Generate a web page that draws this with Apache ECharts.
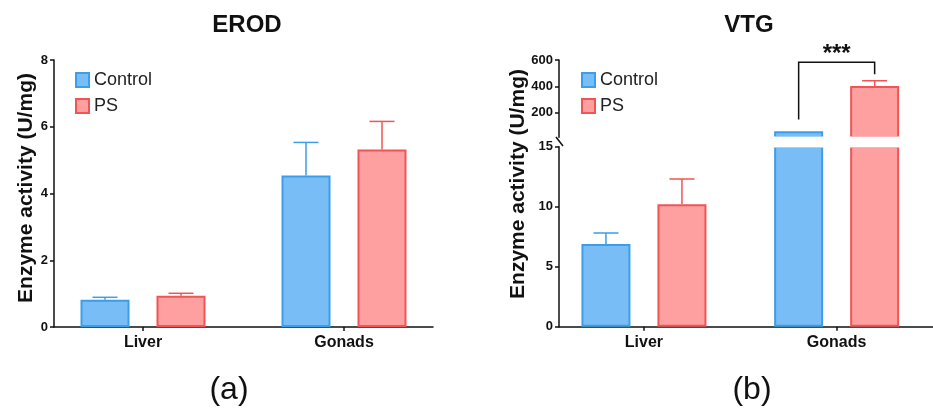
<!DOCTYPE html>
<html>
<head>
<meta charset="utf-8">
<script src="https://cdn.jsdelivr.net/npm/echarts@6/dist/echarts.min.js"></script>
<style>html,body{margin:0;padding:0;background:#fff;}#chart{width:933px;height:414px;}</style>
</head>
<body>
<div id="chart"></div>
<script>
// ---- data ----
const categories = ['Liver', 'Gonads'];
const seriesNames = ['Control', 'PS'];
// (a) EROD
const erodControl = [0.82, 4.54];
const erodControlSD = [0.07, 0.99];
const erodPS = [0.94, 5.32];
const erodPSSD = [0.07, 0.84];
const erodTicks = [0, 2, 4, 6, 8];
// (b) VTG (broken axis: 0-15 and 15-600)
const vtgControl = [6.9, 60];
const vtgControlSD = [0.9, 0];
const vtgPS = [10.2, 403];
const vtgPSSD = [2.1, 40];
const vtgLowTicks = [0, 5, 10, 15];
const vtgHighTicks = [200, 400, 600];
// significance bracket on Gonads: [category index, left end, top, right end]
const vtgBracket = [[1, 150, 583, 492]];
const vtgBracketLabel = '***';

// ---- styles ----
const FONT = '"Liberation Sans", Arial, Helvetica, sans-serif';
const BLUE_FILL = '#79bdf7', BLUE_LINE = '#3c9de8';
const RED_FILL = '#fea0a0', RED_LINE = '#f05454';
const AXIS_COLOR = '#111';
const BAR_W = 49, BAR_GAP_PX = 27, CAP = 25;
const OFFSET = (BAR_W + BAR_GAP_PX) / 2;

const axisLineStyle = { color: AXIS_COLOR, width: 1.5 };
const tickLabel = { color: '#111', fontWeight: 'bold', fontSize: 13, fontFamily: FONT, margin: 6 };
const catLabel = { color: '#111', fontWeight: 'bold', fontSize: 16, fontFamily: FONT, margin: 8 };

function errRender(offset, color) {
  return function (params, api) {
    const i = api.value(0), m = api.value(1), s = api.value(2);
    if (!(s > 0)) return null;
    const a = api.coord([i, m]);
    const b = api.coord([i, m + s]);
    const cs = params.coordSys;
    if (a[1] <= cs.y + 0.5 || b[1] >= cs.y + cs.height - 0.5) return null;
    const x = a[0] + offset;
    return {
      type: 'group',
      children: [
        { type: 'line', shape: { x1: x, y1: a[1], x2: x, y2: b[1] }, style: { stroke: color, lineWidth: 1.5 } },
        { type: 'line', shape: { x1: x - CAP / 2, y1: b[1], x2: x + CAP / 2, y2: b[1] }, style: { stroke: color, lineWidth: 1.5 } }
      ]
    };
  };
}

function barSeries(name, data, xi, yi, fill, line) {
  return {
    name: name, type: 'bar', xAxisIndex: xi, yAxisIndex: yi, data: data,
    barWidth: BAR_W, barGap: (BAR_GAP_PX / BAR_W * 100).toFixed(1) + '%',
    itemStyle: { color: fill, borderColor: line, borderWidth: 2 },
    clip: true, silent: true
  };
}
function errSeries(mean, sd, xi, yi, offset, color) {
  return {
    type: 'custom', xAxisIndex: xi, yAxisIndex: yi, clip: true, silent: true, z: 3,
    renderItem: errRender(offset, color),
    encode: { x: 0, y: 1 },
    data: categories.map((c, i) => [i, mean[i], sd[i]])
  };
}

const LOW_MAX = 15, HIGH_MIN = 15, HIGH_MAX = 600;
const lowVals = arr => arr.map(v => v);
const highVals = arr => arr.map(v => (v > HIGH_MIN ? v : '-'));

const legendBase = {
  data: seriesNames, orient: 'vertical', selectedMode: false, icon: 'rect',
  itemWidth: 13, itemHeight: 14, itemGap: 8,
  textStyle: { fontSize: 18, color: '#222', fontFamily: FONT, lineHeight: 18 }
};

const titleStyle = { fontSize: 24, fontWeight: 'bold', color: '#111', fontFamily: FONT };

const option = {
  animation: false,
  textStyle: { fontFamily: FONT },
  title: [
    { text: 'EROD', left: 242, top: 8, textAlign: 'center', textStyle: titleStyle },
    { text: 'VTG', left: 744, top: 8, textAlign: 'center', textStyle: titleStyle }
  ],
  legend: [
    Object.assign({}, legendBase, { left: 70, top: 66 }),
    Object.assign({}, legendBase, { left: 576, top: 66 })
  ],
  grid: [
    { left: 42.5, top: 60, width: 402, height: 267 },          // 0 a bars
    { left: 54, top: 60, width: 379, height: 267 },            // 1 a axes
    { left: 547.6, top: 146.7, width: 402.8, height: 180 },    // 2 b low bars
    { left: 547.6, top: 60, width: 402.8, height: 77.3 },      // 3 b high bars
    { left: 559, top: 146.7, right: 0, height: 180 },          // 4 b low axes
    { left: 559, top: 60, width: 100, height: 77.3 }           // 5 b high axes
  ],
  xAxis: [
    { gridIndex: 0, type: 'category', data: categories, axisLine: { show: false },
      axisTick: { show: true, alignWithLabel: true, length: 4, lineStyle: axisLineStyle }, axisLabel: catLabel },
    { gridIndex: 1, type: 'category', data: categories, axisLine: { show: true, lineStyle: axisLineStyle },
      axisTick: { show: false }, axisLabel: { show: false } },
    { gridIndex: 2, type: 'category', data: categories, axisLine: { show: false },
      axisTick: { show: true, alignWithLabel: true, length: 4, lineStyle: axisLineStyle }, axisLabel: catLabel },
    { gridIndex: 3, type: 'category', data: categories, show: false },
    { gridIndex: 4, type: 'category', data: categories, axisLine: { show: true, lineStyle: axisLineStyle },
      axisTick: { show: false }, axisLabel: { show: false } },
    { gridIndex: 5, type: 'category', data: categories, show: false }
  ],
  yAxis: [
    { gridIndex: 0, type: 'value', min: 0, max: 8, show: false },
    { gridIndex: 1, type: 'value', min: 0, max: 8, interval: 2,
      axisLine: { show: true, lineStyle: axisLineStyle },
      axisTick: { show: true, length: 4, lineStyle: axisLineStyle, customValues: erodTicks },
      axisLabel: Object.assign({ customValues: erodTicks }, tickLabel), splitLine: { show: false } },
    { gridIndex: 2, type: 'value', min: 0, max: LOW_MAX, show: false },
    { gridIndex: 3, type: 'value', min: HIGH_MIN, max: HIGH_MAX, show: false },
    { gridIndex: 4, type: 'value', min: 0, max: LOW_MAX, interval: 5,
      axisLine: { show: true, lineStyle: axisLineStyle },
      axisTick: { show: true, length: 4, lineStyle: axisLineStyle, customValues: vtgLowTicks },
      axisLabel: Object.assign({ customValues: vtgLowTicks }, tickLabel), splitLine: { show: false } },
    { gridIndex: 5, type: 'value', min: HIGH_MIN, max: HIGH_MAX,
      axisLine: { show: true, lineStyle: axisLineStyle },
      axisTick: { show: true, length: 4, lineStyle: axisLineStyle, customValues: vtgHighTicks },
      axisLabel: Object.assign({ customValues: vtgHighTicks }, tickLabel), splitLine: { show: false } }
  ],
  series: [
    // (a)
    barSeries('Control', erodControl, 0, 0, BLUE_FILL, BLUE_LINE),
    barSeries('PS', erodPS, 0, 0, RED_FILL, RED_LINE),
    errSeries(erodControl, erodControlSD, 0, 0, -OFFSET, BLUE_LINE),
    errSeries(erodPS, erodPSSD, 0, 0, OFFSET, RED_LINE),
    // (b) lower segment
    barSeries('Control', lowVals(vtgControl), 2, 2, BLUE_FILL, BLUE_LINE),
    barSeries('PS', lowVals(vtgPS), 2, 2, RED_FILL, RED_LINE),
    errSeries(vtgControl, vtgControlSD, 2, 2, -OFFSET, BLUE_LINE),
    errSeries(vtgPS, vtgPSSD, 2, 2, OFFSET, RED_LINE),
    // (b) upper segment
    barSeries('Control', highVals(vtgControl), 3, 3, BLUE_FILL, BLUE_LINE),
    barSeries('PS', highVals(vtgPS), 3, 3, RED_FILL, RED_LINE),
    errSeries(vtgControl, vtgControlSD, 3, 3, -OFFSET, BLUE_LINE),
    errSeries(vtgPS, vtgPSSD, 3, 3, OFFSET, RED_LINE),
    // significance bracket
    {
      type: 'custom', xAxisIndex: 3, yAxisIndex: 3, clip: false, silent: true, z: 4,
      encode: { x: 0, y: 1 },
      data: vtgBracket,
      renderItem: function (params, api) {
        const i = api.value(0);
        const l = api.coord([i, api.value(1)]);
        const t = api.coord([i, api.value(2)]);
        const r = api.coord([i, api.value(3)]);
        const xl = l[0] - OFFSET, xr = l[0] + OFFSET;
        return {
          type: 'group',
          children: [
            { type: 'polyline', shape: { points: [[xl, l[1]], [xl, t[1]], [xr, t[1]], [xr, r[1]]] },
              style: { stroke: '#111', lineWidth: 1.5, fill: null } },
            { type: 'text', x: l[0], y: t[1] - 8,
              style: { text: vtgBracketLabel, fontSize: 24, fontWeight: 'bold', fill: '#111', fontFamily: FONT,
                       textAlign: 'center', textVerticalAlign: 'middle' } }
          ]
        };
      }
    }
  ],
  graphic: [
    // white band of the axis break, hiding the clipped bar edges
    { type: 'rect', shape: { x: 566, y: 136.4, width: 367, height: 11.2 }, style: { fill: '#fff' }, z: 100 },
    { type: 'line', shape: { x1: 556, y1: 137, x2: 563, y2: 146 }, style: { stroke: AXIS_COLOR, lineWidth: 1.5 }, z: 101 },
    { type: 'text', x: 26.5, y: 188, rotation: Math.PI / 2,
      style: { text: 'Enzyme activity (U/mg)', fontSize: 21, fontWeight: 'bold', fill: '#111', fontFamily: FONT,
               textAlign: 'center', textVerticalAlign: 'middle' } },
    { type: 'text', x: 518, y: 184, rotation: Math.PI / 2,
      style: { text: 'Enzyme activity (U/mg)', fontSize: 21, fontWeight: 'bold', fill: '#111', fontFamily: FONT,
               textAlign: 'center', textVerticalAlign: 'middle' } },
    { type: 'text', x: 229, y: 390,
      style: { text: '(a)', fontSize: 32, fill: '#111', fontFamily: FONT, textAlign: 'center', textVerticalAlign: 'middle' } },
    { type: 'text', x: 752, y: 390,
      style: { text: '(b)', fontSize: 32, fill: '#111', fontFamily: FONT, textAlign: 'center', textVerticalAlign: 'middle' } }
  ]
};

const chart = echarts.init(document.getElementById('chart'), null, { renderer: 'canvas' });
chart.setOption(option);
</script>
</body>
</html>
